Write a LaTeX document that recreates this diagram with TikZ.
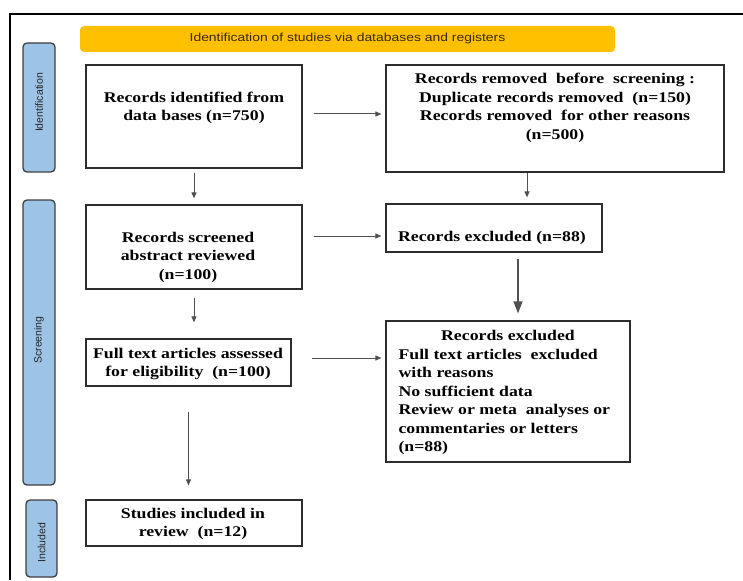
\documentclass[tikz,border=0pt]{standalone}
\usepackage{fontspec}
\setmainfont{Liberation Serif}[FakeStretch=1.2]
\newfontfamily\bannerfont{Liberation Sans}[FakeStretch=1.2]
\newfontfamily\phasefont{Liberation Sans}
\usetikzlibrary{positioning, arrows.meta, calc}

\definecolor{BannerColor}{RGB}{255,192,0}
\definecolor{BannerText}{RGB}{55,40,15}
\definecolor{PhaseColor}{RGB}{157,195,230}
\definecolor{PhaseBorder}{RGB}{64,64,64}
\definecolor{BoxBorder}{RGB}{45,45,45}
\definecolor{ArrowColor}{RGB}{80,80,80}

\tikzstyle{frame} = [line width=1.5pt, black]
\tikzstyle{banner} = [rectangle, rounded corners=4pt, fill=BannerColor, minimum width=535pt, minimum height=26pt, text=BannerText, font=\bannerfont\fontsize{11.6}{13}\selectfont]
\tikzstyle{phase} = [rectangle, rounded corners=4pt, draw=PhaseBorder, line width=1.3pt, fill=PhaseColor, minimum width=32pt]
\tikzstyle{phaselabel} = [rotate=90, text=black!85, font=\phasefont\fontsize{10.5}{12}\selectfont]
\tikzstyle{box} = [rectangle, draw=BoxBorder, line width=1.2pt, inner sep=0pt]
\tikzstyle{boxtext} = [align=center, font=\bfseries\fontsize{14.8}{18.5}\selectfont]
\tikzstyle{arrow} = [ArrowColor, line width=1pt, -{Triangle[length=6pt,width=5pt]}]
\tikzstyle{bigarrow} = [ArrowColor, line width=1.2pt, -{Triangle[length=12pt,width=9pt]}]

\begin{document}
\begin{tikzpicture}[x=1pt, y=-1pt]
            \useasboundingbox (0,0) rectangle (743,580);
            % Outer frame
            \draw[frame] (743,14) -- (10,14) -- (10,580);
            \node[banner] (title) at (347.5,39) {Identification of studies via databases and registers};

            % Phase bars
            \node[phase, minimum height=129pt] (idbar) at (39,107.5) {};
            \node[phaselabel] (idlabel) at (39,102.5) {Identification};
            \node[phase, minimum height=285pt] (scrbar) at (39,342.5) {};
            \node[phaselabel] (scrlabel) at (39,340) {Screening};
            \node[phase, minimum width=31pt, minimum height=77pt] (incbar) at (41.5,538.5) {};
            \node[phaselabel] (inclabel) at (41.5,542.5) {Included};

            % Identification
            \node[box, minimum width=216pt, minimum height=103pt] (ident) at (194,116.5) {};
            \node[boxtext] (identtxt) at (194,108) {Records identified from\\data bases (n=750)};
            \node[box, minimum width=338pt, minimum height=107pt] (removed) at (555,118.5) {};
            \node[boxtext] (removedtxt) at (555,108) {Records removed\ \ before\ \ screening :\\Duplicate records removed\ \ (n=150)\\Records removed\ \ for other reasons\\(n=500)};
            \draw[arrow, shorten <=11pt, shorten >=4pt] ([yshift=2.5pt]ident.east) -- ([yshift=2.5pt]ident.east -| removed.west);

            % Screening
            \node[box, minimum width=216pt, minimum height=84pt] (screened) at (194,247) {};
            \node[boxtext] (screenedtxt) at (188,257) {Records screened\\abstract reviewed\\(n=100)};
            \node[box, minimum width=216pt, minimum height=48pt] (excl) at (494,228) {};
            \node[boxtext] (excltxt) at (492,238) {Records excluded (n=88)};
            \draw[arrow, shorten <=4pt, shorten >=6pt] (ident.south) -- (screened.north);
            \draw[arrow, shorten >=6pt] ([xshift=-28pt]removed.south) -- ([xshift=-28pt]removed.south |- excl.north);
            \draw[arrow, shorten <=11pt, shorten >=4pt] ([yshift=11pt]screened.east) -- ([yshift=11pt]screened.east -| excl.west);

            \node[box, minimum width=205pt, minimum height=47pt] (elig) at (188.5,362.5) {};
            \node[boxtext] (eligtxt) at (188,364) {Full text articles assessed\\for eligibility\ \ (n=100)};
            \node[box, minimum width=244pt, minimum height=141pt] (fullexcl) at (508,391.5) {};
            \node[boxtext] (fullexclhead) at (508,335) {Records excluded};
            \node[boxtext, align=left, anchor=west, font=\bfseries\fontsize{14.8}{18.4}\selectfont] (fullexcltxt) at (395,402) {Full text articles\ \ excluded\\with reasons\\No sufficient data\\Review or meta\ \ analyses or\\commentaries or letters\\(n=88)};
            \draw[arrow, shorten <=8pt, shorten >=16pt] (screened.south) -- (screened.south |- elig.north);
            \draw[bigarrow, shorten <=6pt, shorten >=7pt] ([xshift=24pt]excl.south) -- ([xshift=24pt]excl.south |- fullexcl.north);
            \draw[arrow, shorten <=20pt, shorten >=4pt] ([yshift=4.5pt]elig.east) -- ([yshift=4.5pt]elig.east -| fullexcl.west);

            % Included
            \node[box, minimum width=216pt, minimum height=46pt] (included) at (194,523) {};
            \node[boxtext] (includedtxt) at (193,524) {Studies included in\\review\ \ (n=12)};
            \draw[arrow, shorten <=25pt, shorten >=14pt] (elig.south) -- (elig.south |- included.north);
        \end{tikzpicture}
\end{document}
